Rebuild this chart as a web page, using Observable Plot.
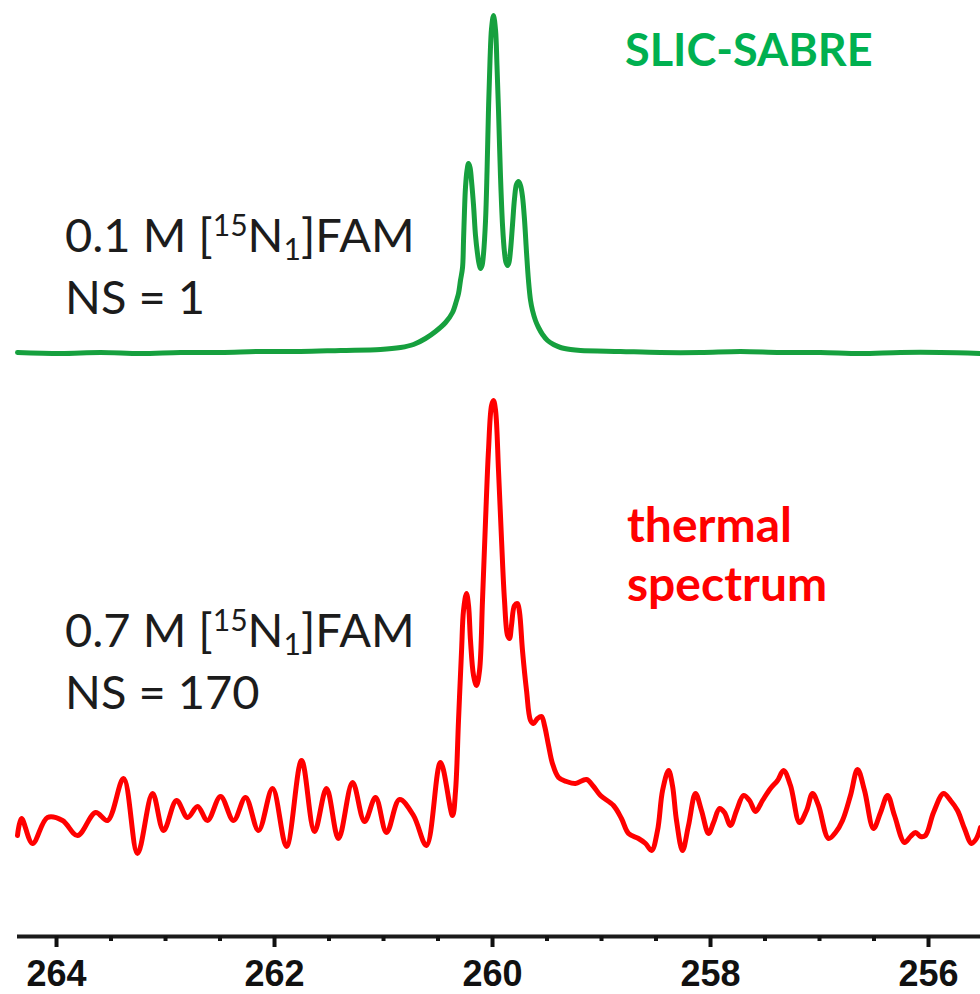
<!DOCTYPE html>
<html>
<head>
<meta charset="utf-8">
<script src="https://cdn.jsdelivr.net/npm/d3@7"></script>
<script src="https://cdn.jsdelivr.net/npm/@observablehq/plot@0.6"></script>
<style>
  html, body { margin: 0; padding: 0; background: #fff; }
  #wrap { position: relative; width: 980px; height: 994px; overflow: hidden; }
  .lab { position: absolute; white-space: nowrap; line-height: 1; font-family: Lato, "Open Sans", sans-serif; }
  .dark { color: #1c1c1c; font-size: 47px; }
  .dark sup { font-size: 0.64em; vertical-align: 0.52em; line-height: 0; }
  .dark sub { font-size: 0.64em; vertical-align: -0.27em; line-height: 0; }
  .green { color: #00b050; font-weight: bold; font-size: 45px; }
  .red { color: #ff0000; font-weight: bold; font-size: 48px; }
  g[aria-label="x-axis tick label"] { font-family: "Liberation Sans", Arial, sans-serif; font-weight: bold; font-size: 36px; }
</style>
</head>
<body>
<div id="wrap"></div>
<script>
// chemical shift (ppm) and intensity (a.u.) for the SLIC-SABRE (hyperpolarised) spectrum
const ppmGreen = [264.358,263.963,263.596,263.229,262.862,262.495,262.128,261.761,261.394,261.028,260.844,260.725,260.615,260.523,260.431,260.367,260.330,260.312,260.294,260.275,260.266,260.257,260.248,260.234,260.220,260.206,260.193,260.174,260.156,260.138,260.124,260.110,260.096,260.083,260.064,260.050,260.037,260.023,260.009,259.991,259.972,259.959,259.945,259.927,259.908,259.890,259.876,259.862,259.849,259.835,259.817,259.798,259.780,259.761,259.743,259.725,259.706,259.688,259.670,259.651,259.633,259.606,259.578,259.541,259.495,259.440,259.376,259.284,259.193,258.826,258.459,258.092,257.725,257.358,256.991,256.624,256.257,255.890,255.523];
const intGreen = [0,-1,0,-1,0,0,1,1,2,3,5,8,14,21,30,40,52,59,72,85,112,142,165,182,189,185,172,147,117,99,89,84,87,98,132,182,242,292,324,337,322,287,242,177,127,100,90,87,90,102,127,154,168,171,167,156,132,100,72,52,42,32,25,18,12,8,5,3,2,1,0,0,1,0,0,-1,0,0,-1];

// chemical shift (ppm) and intensity (a.u.) for the thermal spectrum
const ppmRed = [264.358,264.321,264.220,264.083,263.945,263.807,263.642,263.532,263.385,263.257,263.119,263.018,262.899,262.798,262.706,262.615,262.495,262.376,262.266,262.147,262.018,261.890,261.752,261.633,261.523,261.413,261.284,261.174,261.073,260.972,260.853,260.725,260.606,260.477,260.367,260.339,260.312,260.284,260.266,260.239,260.220,260.202,260.174,260.147,260.119,260.092,260.064,260.037,260.009,259.991,259.972,259.945,259.917,259.890,259.862,259.844,259.826,259.798,259.771,259.752,259.725,259.688,259.651,259.624,259.587,259.550,259.523,259.486,259.450,259.394,259.321,259.239,259.138,259.073,259.009,258.890,258.817,258.752,258.661,258.596,258.541,258.486,258.440,258.385,258.349,258.312,258.257,258.202,258.138,258.083,258.018,257.972,257.917,257.872,257.817,257.761,257.697,257.642,257.587,257.523,257.450,257.385,257.330,257.266,257.183,257.119,257.064,257.009,256.917,256.853,256.789,256.716,256.651,256.587,256.505,256.440,256.376,256.312,256.220,256.165,256.119,256.073,256.028,255.954,255.862,255.798,255.734,255.670,255.606,255.560,255.523];
const intRed = [-13,4,-21,5,2,-13,10,2,44,-31,29,-8,22,5,16,2,26,2,25,-8,34,-24,62,-9,34,-16,40,1,25,-10,23,7,-23,60,7,32,102,172,212,229,217,182,147,137,152,222,302,372,417,422,412,352,282,222,187,184,197,217,219,210,172,132,102,99,104,106,97,77,59,45,41,39,43,36,27,17,4,-11,-16,-21,-28,-8,32,52,37,2,-28,-3,29,12,-11,0,14,10,-3,12,27,22,11,22,34,42,52,37,0,12,29,17,-16,-10,2,27,53,32,-6,10,27,7,-20,-14,-10,-14,-13,10,29,22,12,-6,-21,-16,-5];

const majorTicks = [264, 262, 260, 258, 256];
const minorTicks = [263.5, 263, 262.5, 261.5, 261, 260.5, 259.5, 259, 258.5, 257.5, 257, 256.5, 255.5];

const green = ppmGreen.map((p, i) => ({ppm: p, v: intGreen[i]}));
const red = ppmRed.map((p, i) => ({ppm: p, v: intRed[i]}));

// vertical offsets stacking the two spectra
const GREEN_BASE = 584, RED_BASE = 114;

const chart = Plot.plot({
  width: 980,
  height: 994,
  marginLeft: 17,
  marginRight: 0,
  marginTop: 0,
  marginBottom: 58,
  style: {background: "white", overflow: "visible"},
  x: {domain: [264.358, 255.523], label: null},
  y: {domain: [0, 936], axis: null},
  marks: [
    Plot.ruleY([0], {stroke: "#1a1a1a", strokeWidth: 4}),
    Plot.axisX({ticks: minorTicks, tickSize: 5, strokeWidth: 4, stroke: "#111", tickFormat: () => ""}),
    Plot.axisX({ticks: majorTicks, tickSize: 11, strokeWidth: 4, stroke: "#111", tickPadding: 13, fontSize: 36, fontWeight: "bold", fill: "#111", tickFormat: d => String(d)}),
    Plot.line(red, {x: "ppm", y: d => RED_BASE + d.v, stroke: "#ff0000", strokeWidth: 5, curve: "catmull-rom", strokeLinejoin: "round"}),
    Plot.line(green, {x: "ppm", y: d => GREEN_BASE + d.v, stroke: "#16a03e", strokeWidth: 5, curve: "catmull-rom", strokeLinejoin: "round"})
  ]
});

const wrap = document.getElementById("wrap");
wrap.appendChild(chart);

const labels = [
  {cls: "dark", left: 65, top: 211, html: "0.1 M [<sup>15</sup>N<sub>1</sub>]FAM"},
  {cls: "dark", left: 65, top: 273, html: "NS = 1"},
  {cls: "dark", left: 65, top: 606, html: "0.7 M [<sup>15</sup>N<sub>1</sub>]FAM"},
  {cls: "dark", left: 65, top: 668, html: "NS = 170"},
  {cls: "green", left: 625, top: 27, html: "SLIC-SABRE"},
  {cls: "red", left: 627, top: 500, html: "thermal"},
  {cls: "red", left: 627, top: 559, html: "spectrum"}
];
for (const l of labels) {
  const d = document.createElement("div");
  d.className = "lab " + l.cls;
  d.style.left = l.left + "px";
  d.style.top = l.top + "px";
  d.innerHTML = l.html;
  wrap.appendChild(d);
}
</script>
</body>
</html>
